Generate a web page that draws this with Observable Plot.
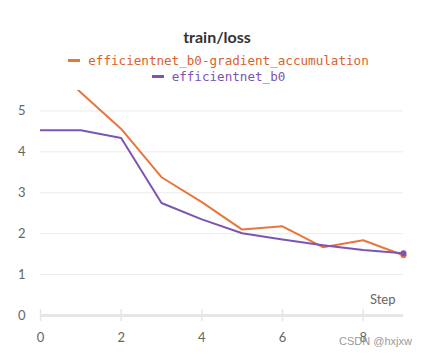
<!DOCTYPE html>
<html><head><meta charset="utf-8">
<script src="https://cdn.jsdelivr.net/npm/d3@7"></script>
<script src="https://cdn.jsdelivr.net/npm/@observablehq/plot@0.6"></script>
<style>
body{margin:0;background:#fff;font-family:Lato,"Open Sans",sans-serif;}
#wrap{position:relative;width:430px;height:359px;overflow:hidden;}
#title{position:absolute;top:27px;left:0;width:434px;text-align:center;font-weight:bold;font-size:16px;color:#333;}
.leg{position:absolute;left:0;width:437px;text-align:center;font-family:"DejaVu Sans Mono",monospace;font-size:12.6px;white-space:nowrap;}
.leg span.sw{display:inline-block;width:12px;height:3px;vertical-align:middle;margin-right:8px;position:relative;top:-1px;}
#chart{position:absolute;top:88px;left:0;}
#wm{position:absolute;left:339px;top:335px;font-size:11px;color:#9a9a9a;font-family:"Liberation Sans",sans-serif;}
</style></head>
<body><div id="wrap">
<div id="title">train/loss</div>
<div id="leg1" class="leg" style="top:53px"></div>
<div id="leg2" class="leg" style="top:69px"></div>
<div id="chart"></div>
<div id="wm">CSDN @hxjxw</div>
</div>
<script>
const steps = [0,1,2,3,4,5,6,7,8,9];
const seriesNames = ["efficientnet_b0-gradient_accumulation","efficientnet_b0"];
const gradAccum = [6.4,5.45,4.56,3.38,2.77,2.1,2.18,1.67,1.84,1.47];
const baseline = [4.53,4.53,4.34,2.75,2.35,2.01,1.86,1.72,1.6,1.52];
const colors = ["#e8763a","#7c55b3"];
const textColors = ["#d9622b","#7c55b3"];
const xTicks = [0,2,4,6,8];
const yTicks = [0,1,2,3,4,5];

["leg1","leg2"].forEach((id,i)=>{
  const el=document.getElementById(id);
  el.innerHTML=`<span class="sw" style="background:${colors[i]}"></span><span style="color:${textColors[i]}">${seriesNames[i]}</span>`;
});

const data = [];
steps.forEach((s,i)=>{
  data.push({step:s,value:gradAccum[i],series:seriesNames[0]});
  data.push({step:s,value:baseline[i],series:seriesNames[1]});
});
const last = data.filter(d=>d.step===9);

const chart = Plot.plot({
  width:430, height:271,
  marginLeft:40, marginRight:27, marginTop:2, marginBottom:44,
  style:{fontFamily:"Lato, 'Open Sans', sans-serif", fontSize:"13px", color:"#666"},
  x:{domain:[0,9]},
  y:{domain:[0,5.5]},
  color:{domain:seriesNames, range:colors},
  marks:[
    Plot.gridY(yTicks.filter(d=>d>0),{stroke:"#ebebeb", strokeOpacity:1}),
    Plot.axisY({ticks:yTicks, tickSize:0, tickPadding:15, fill:"#666", label:null, tickFormat:d3.format("d")}),
    Plot.ruleY([0],{stroke:"#e6e6e6", strokeWidth:3}),
    Plot.axisX({ticks:xTicks, tickSize:12, dy:-6, stroke:"#e6e6e6", strokeOpacity:1, strokeWidth:1.5, tickFormat:()=>"", label:null}),
    Plot.axisX({ticks:xTicks, tickSize:0, tickPadding:17, fill:"#666", label:null, tickFormat:d3.format("d")}),
    Plot.text(["Step"],{frameAnchor:"bottom-right", dx:-8, dy:-12, textAnchor:"end", fill:"#666", fontSize:13}),
    Plot.line(data,{x:"step", y:"value", z:"series", stroke:"series", strokeWidth:2, clip:true}),
    Plot.dot(last,{x:"step", y:"value", fill:"series", r:3})
  ]
});
document.getElementById("chart").appendChild(chart);
</script>
</body></html>
